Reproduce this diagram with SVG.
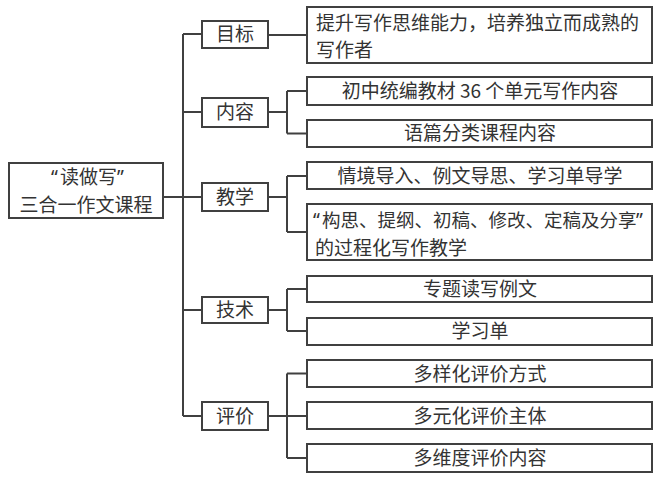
<svg xmlns="http://www.w3.org/2000/svg" width="654" height="477" viewBox="0 0 654 477">
<style>
.box{fill:#fff;stroke:#404040;stroke-width:2}
.ln{fill:none;stroke:#404040;stroke-width:2}
text{font-family:"Noto Sans CJK SC","Noto Sans",sans-serif;font-size:19px;fill:#333}
.c{text-anchor:middle}
.q{font-family:"Noto Sans","DejaVu Sans",sans-serif}
</style>
<rect width="654" height="477" fill="#fff"/>
<g id="connectors">
<path class="ln" d="M163 197H202M183 34V416M183 34H202M183 112H202M183 310H202M183 416H202"/>
<path class="ln" d="M268 35H307"/>
<path class="ln" d="M268 112H287M287 91V133.5M287 91H307M287 133.5H307"/>
<path class="ln" d="M268 197H287M287 176V232M287 176H307M287 232H307"/>
<path class="ln" d="M268 310H287M287 289V331M287 289H307M287 331H307"/>
<path class="ln" d="M268 416H287M287 373.5V458M287 373.5H307M287 416H307M287 458H307"/>
</g>
<g id="root"><rect class="box" x="9" y="163" width="154" height="55"/><text x="51" y="184"><tspan class="q">“</tspan><tspan x="60">读做写</tspan><tspan class="q" x="117">”</tspan></text><text class="c" x="86" y="212">三合一作文课程</text></g>
<g id="n-mubiao"><rect class="box" x="202" y="21" width="66" height="27"/><text class="c" x="235" y="41">目标</text></g>
<g id="n-neirong"><rect class="box" x="202" y="98" width="66" height="29"/><text class="c" x="235" y="119">内容</text></g>
<g id="n-jiaoxue"><rect class="box" x="202" y="183" width="66" height="28"/><text class="c" x="235" y="204">教学</text></g>
<g id="n-jishu"><rect class="box" x="202" y="297" width="66" height="26"/><text class="c" x="235" y="317">技术</text></g>
<g id="n-pingjia"><rect class="box" x="202" y="402" width="66" height="28"/><text class="c" x="235" y="423">评价</text></g>
<g id="d1"><rect class="box" x="307" y="7" width="345" height="56"/><text x="316" y="30">提升写作思维能力，培养独立而成熟的</text><text x="316" y="57">写作者</text></g>
<g id="d2"><rect class="box" x="307" y="77" width="345" height="28"/><text class="c" x="480" y="98">初中统编教材 36 个单元写作内容</text></g>
<g id="d3"><rect class="box" x="307" y="120" width="345" height="27"/><text class="c" x="480" y="140">语篇分类课程内容</text></g>
<g id="d4"><rect class="box" x="307" y="162" width="345" height="27"/><text class="c" x="480" y="183">情境导入、例文导思、学习单导学</text></g>
<g id="d5"><rect class="box" x="307" y="204" width="345" height="56"/><text x="313" y="227"><tspan class="q">“</tspan><tspan x="322" font-size="18.5">构思、提纲、初稿、修改、定稿及分享</tspan><tspan class="q" x="636">”</tspan></text><text x="315" y="255">的过程化写作教学</text></g>
<g id="d6"><rect class="box" x="307" y="276" width="345" height="26"/><text class="c" x="480" y="296">专题读写例文</text></g>
<g id="d7"><rect class="box" x="307" y="318" width="345" height="27"/><text class="c" x="480" y="338">学习单</text></g>
<g id="d8"><rect class="box" x="307" y="360" width="345" height="27"/><text class="c" x="480" y="381">多样化评价方式</text></g>
<g id="d9"><rect class="box" x="307" y="402" width="345" height="27"/><text class="c" x="480" y="423">多元化评价主体</text></g>
<g id="d10"><rect class="box" x="307" y="444" width="345" height="28"/><text class="c" x="480" y="465">多维度评价内容</text></g>
</svg>
